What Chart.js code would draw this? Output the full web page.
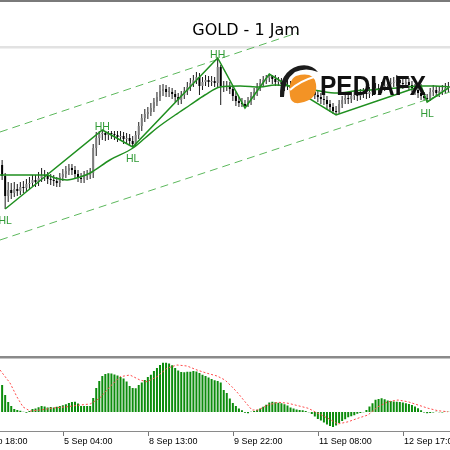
<!DOCTYPE html>
<html>
<head>
<meta charset="utf-8">
<title>GOLD - 1 Jam</title>
<script src="https://cdn.jsdelivr.net/npm/chart.js@4.4.1/dist/chart.umd.min.js"></script>
<style>
  html, body { margin: 0; padding: 0; background: #fff; }
  canvas { display: block; background: #fff; }
</style>
</head>
<body>
<canvas id="chart" width="450" height="450"></canvas>
<script>
// hourly candles, index = bar number
const opens = [3565,3554,3534,3540,3537,3541,3539,3543,3542,3546,
  3547,3550,3548,3552,3555,3554,3551,3550,3549,3547,
  3553,3556,3559,3562,3560,3556,3552,3551,3554,3555,
  3557,3582,3592,3596,3597,3595,3597,3596,3595,3593,
  3594,3591,3592,3589,3586,3595,3604,3612,3616,3618,
  3622,3628,3633,3639,3641,3638,3638,3636,3633,3630,
  3635,3639,3643,3647,3650,3653,3644,3648,3650,3648,
  3649,3647,3663,3644,3643,3644,3641,3634,3629,3627,
  3626,3624,3629,3634,3638,3643,3647,3650,3652,3654,
  3651,3648,3649,3646,3644,3645,3642,3644,3642,3643,
  3641,3642,3640,3638,3635,3633,3631,3630,3626,3623,
  3619,3618,3626,3630,3632,3631,3634,3635,3634,3636,
  3637,3636,3638,3640,3642,3641,3643,3644,3646,3647,
  3648,3650,3647,3646,3648,3645,3642,3640,3637,3634,
  3632,3631,3638,3640,3637,3639,3640,3642];
const highs = [3570,3557,3548,3547,3548,3546,3548,3549,3551,3553,
  3555,3555,3558,3562,3560,3558,3556,3555,3553,3557,
  3561,3564,3566,3566,3564,3560,3557,3559,3560,3562,
  3586,3598,3599,3600,3599,3599,3599,3599,3599,3599,
  3598,3597,3596,3594,3599,3608,3616,3621,3623,3627,
  3632,3638,3645,3646,3645,3643,3642,3640,3637,3639,
  3643,3648,3652,3655,3658,3657,3653,3655,3654,3654,
  3653,3672,3665,3649,3649,3648,3644,3638,3633,3632,
  3630,3633,3638,3642,3647,3651,3654,3655,3656,3655,
  3655,3653,3652,3650,3650,3649,3648,3648,3647,3647,
  3646,3646,3644,3642,3639,3637,3636,3634,3630,3627,
  3624,3630,3634,3637,3636,3638,3640,3639,3641,3642,
  3641,3643,3645,3647,3646,3648,3649,3651,3652,3653,
  3655,3654,3652,3653,3652,3649,3646,3644,3646,3638,
  3636,3642,3645,3644,3644,3645,3647,3648];
const lows = [3550,3521,3528,3531,3533,3534,3535,3537,3538,3541,
  3543,3543,3544,3548,3549,3546,3545,3544,3543,3543,
  3549,3552,3555,3555,3551,3548,3547,3547,3550,3551,
  3552,3574,3585,3590,3589,3590,3591,3590,3588,3589,
  3586,3587,3585,3583,3584,3591,3599,3608,3611,3614,
  3618,3624,3629,3634,3633,3633,3631,3628,3625,3626,
  3631,3635,3639,3643,3646,3635,3640,3644,3643,3644,
  3643,3643,3625,3638,3639,3636,3629,3624,3623,3623,
  3622,3623,3625,3630,3634,3639,3643,3646,3648,3646,
  3644,3644,3642,3639,3640,3638,3638,3637,3638,3636,
  3637,3635,3633,3631,3628,3626,3625,3621,3618,3616,
  3615,3616,3622,3626,3626,3627,3630,3629,3630,3632,
  3631,3632,3634,3636,3637,3637,3639,3640,3642,3643,
  3644,3643,3641,3642,3640,3638,3635,3632,3630,3629,
  3628,3629,3634,3633,3633,3635,3636,3638];
const closes = [3554,3534,3540,3537,3541,3539,3543,3542,3546,3547,
  3550,3548,3552,3555,3554,3551,3550,3549,3547,3553,
  3556,3559,3562,3560,3556,3552,3551,3554,3555,3557,
  3582,3592,3596,3597,3595,3597,3596,3595,3593,3594,
  3591,3592,3589,3586,3595,3604,3612,3616,3618,3622,
  3628,3633,3639,3641,3638,3638,3636,3633,3630,3635,
  3639,3643,3647,3650,3653,3644,3648,3650,3648,3649,
  3647,3663,3644,3643,3644,3641,3634,3629,3627,3626,
  3624,3629,3634,3638,3643,3647,3650,3652,3654,3651,
  3648,3649,3646,3644,3645,3642,3644,3642,3643,3641,
  3642,3640,3638,3635,3633,3631,3630,3626,3623,3619,
  3618,3626,3630,3632,3631,3634,3635,3634,3636,3637,
  3636,3638,3640,3642,3641,3643,3644,3646,3647,3648,
  3650,3647,3646,3648,3645,3642,3640,3637,3634,3632,
  3631,3638,3640,3637,3639,3640,3642,3643];

// moving average (read at a few bars)
const maBars = [-0.7,5.9,14.8,17.4,21.4,25.7,29,35.5,43.1,47.1,51,57,61.9,66.8,71.8,78.4,84.9,89.9,94.8,99.8,104.7,110.3,116.2,121.2,130,137.6,142.6,147.5];
const maVals = [3555,3555,3555,3552,3550,3553,3557,3570,3582,3592,3602,3615,3625,3635,3643,3644,3643,3645,3644,3642,3639,3637,3639,3640,3642,3644,3644,3643];

// zigzag swing points
const zzBars = [1,33,43,71,80,88,110,138,140,147];
const zzVals = [3521,3600,3583,3672,3622,3656,3615,3644,3628,3642];
const swingBars = [1,33,43,71,140];
const swingVals = [3521,3600,3583,3672,3628];
const swingTags = ['HL','HH','HL','HH','HL'];

// channel lines
const upperBars = [-0.7,97.1];
const upperVals = [3598,3697];
const lowerBars = [-0.7,147.5];
const lowerVals = [3490,3638];

// oscillator panel
const macdVals = [10.8,6.8,4.0,2.4,1.2,0.8,0.5,0.1,-0.3,0.4,
  1.2,1.4,1.9,2.4,2.2,1.8,2.0,1.8,2.1,2.4,
  2.7,3.1,3.6,4.0,4.1,3.4,2.4,2.4,2.4,2.4,
  5.6,9.6,12.4,14.4,15.2,15.5,15.4,15.0,14.6,14.0,
  13.4,12.2,10.4,9.6,9.5,10.8,11.8,12.8,14.0,14.9,
  16.4,17.6,18.8,19.7,19.7,19.4,18.7,17.6,16.6,16.0,
  15.9,16.1,16.1,16.4,16.2,15.6,14.9,14.4,13.8,13.2,
  12.7,12.4,11.8,8.8,7.6,5.4,3.6,2.4,1.4,0.7,
  -0.3,-0.5,0.1,0.4,0.9,1.4,2.1,2.9,3.8,4.1,
  3.9,3.7,3.5,3.1,2.6,1.8,1.4,1.0,0.8,0.7,
  0.4,-0.1,-0.8,-1.8,-2.8,-3.4,-4.2,-5.0,-5.6,-6.0,
  -5.4,-4.4,-3.6,-2.9,-2.1,-1.7,-1.3,-0.7,-0.4,-0.1,
  0.8,2.2,3.5,4.9,5.2,5.5,5.1,4.6,4.4,4.2,
  4.1,4.0,3.8,3.5,3.2,2.8,2.2,1.5,0.7,-0.2,
  -0.5,-0.4,-0.2,0.1,-0.1,-0.2,0.1,0.1];
const sigBars = [-0.7,2.6,4.9,6.9,9.2,12.5,16.8,21.4,25.7,29,32.2,35.5,38.8,42.1,45.4,47.7,51,54.3,57.6,60.9,64.2,67.5,70.8,73.4,75.7,77.7,80,82.3,84.3,87.6,90.9,94.2,97.5,100.8,104,107.3,110.6,114,117.2,120.5,123.8,127.1,130.4,133.7,137,140.3,143.6,146.9];
const sigVals = [16.8,11.6,6.0,2.0,0.4,0.8,1.6,2.1,2.8,3.2,5.6,10.1,14.1,14.8,12.8,12.1,14.1,17.5,18.8,18.4,16.8,15.5,14.4,12.8,10.1,7.5,4.1,0.8,0.8,2.8,3.9,3.5,2.5,1.5,-0.5,-2.5,-4.8,-3.9,-2.5,-1.2,2.1,4.1,4.8,4.1,2.8,1.5,0.5,0.1];

// time axis
const tickBars = [-8,20,48,76,104,132];
const tickLabels = ['3 Sep 18:00','5 Sep 04:00','8 Sep 13:00','9 Sep 22:00','11 Sep 08:00','12 Sep 17:00'];

const GREEN = '#1f8f1f';
const pts = (xs, ys) => xs.map((x, i) => ({x: x, y: ys[i]}));

const wickData = closes.map((c, i) => ({x: i, y: [lows[i], highs[i]]}));
const bodyData = closes.map((c, i) => ({x: i, y: [opens[i], c]}));
const bodyColors = closes.map((c, i) => c >= opens[i] ? '#7c7c7c' : '#000000');

const framePlugin = {
  id: 'frame',
  beforeDatasetsDraw(chart) {
    const c = chart.ctx, w = chart.width;
    c.save();
    c.fillStyle = '#7a7a7a'; c.fillRect(0, 0, w, 2);
    c.fillStyle = '#e2e2e2'; c.fillRect(0, 46, w, 2.5);
    c.fillStyle = '#8a8a8a'; c.fillRect(0, 356, w, 2.5);
    c.fillStyle = '#8a8a8a'; c.fillRect(0, 431, w, 1);
    c.restore();
  },
  afterDatasetsDraw(chart) {
    const c = chart.ctx, xs = chart.scales.x, ys = chart.scales.y;
    c.save();
    // swing labels
    c.font = '10.5px "Liberation Sans", Arial, sans-serif';
    c.fillStyle = '#2f9a35';
    c.textAlign = 'center';
    c.textBaseline = 'alphabetic';
    swingBars.forEach((b, k) => {
      const px = xs.getPixelForValue(b), py = ys.getPixelForValue(swingVals[k]);
      c.fillText(swingTags[k], px, swingTags[k] === 'HH' ? py : py + 14.5);
    });
    // watermark logo
    c.fillStyle = '#f39325';
    c.beginPath();
    c.moveTo(296, 76);
    c.quadraticCurveTo(314, 71, 316, 84);
    c.quadraticCurveTo(318, 98, 304, 102);
    c.quadraticCurveTo(291, 106, 290, 96);
    c.quadraticCurveTo(288, 80, 296, 76);
    c.fill();
    c.strokeStyle = '#fff'; c.lineWidth = 2;
    c.beginPath(); c.moveTo(290, 90); c.quadraticCurveTo(300, 81, 314, 77); c.stroke();
    c.fillStyle = '#1c1c1c';
    c.beginPath();
    c.moveTo(280, 97);
    c.quadraticCurveTo(279, 72, 298, 66);
    c.quadraticCurveTo(311, 63, 318, 72);
    c.quadraticCurveTo(306, 67, 295, 72);
    c.quadraticCurveTo(284, 80, 284, 97);
    c.closePath();
    c.fill();
    c.fillStyle = '#111';
    c.font = 'bold 27px "Liberation Sans", Arial, sans-serif';
    c.textAlign = 'left';
    c.fillText('PEDIAFX', 320, 95, 106);
    c.restore();
  },
  afterDraw(chart) {
    const c = chart.ctx, xs = chart.scales.x;
    c.save();
    c.fillStyle = '#000';
    c.font = '16px "Comic Sans MS", "DejaVu Sans", sans-serif';
    c.textAlign = 'center';
    c.textBaseline = 'alphabetic';
    c.fillText('GOLD - 1 Jam', 246, 35);
    c.font = '9px "Liberation Sans", Arial, sans-serif';
    c.textAlign = 'left';
    c.strokeStyle = '#777';
    c.lineWidth = 1;
    tickBars.forEach((b, k) => {
      const px = Math.round(xs.getPixelForValue(b)) + 0.5;
      c.beginPath(); c.moveTo(px, 432); c.lineTo(px, 436); c.stroke();
      c.fillText(tickLabels[k], px + 0.5, 443.5);
    });
    c.restore();
  }
};

const chart = new Chart(document.getElementById('chart'), {
  type: 'bar',
  data: {
    datasets: [
      {type: 'line', data: pts(zzBars, zzVals), borderColor: GREEN, borderWidth: 1.5, pointRadius: 0, tension: 0, yAxisID: 'y', order: 1},
      {type: 'line', data: pts(maBars, maVals), borderColor: GREEN, borderWidth: 1.5, pointRadius: 0, cubicInterpolationMode: 'monotone', yAxisID: 'y', order: 1},
      {type: 'line', data: pts(upperBars, upperVals), borderColor: '#5cb85c', borderWidth: 1, borderDash: [8, 5], pointRadius: 0, yAxisID: 'y', order: 1},
      {type: 'line', data: pts(lowerBars, lowerVals), borderColor: '#5cb85c', borderWidth: 1, borderDash: [8, 5], pointRadius: 0, yAxisID: 'y', order: 1},
      {type: 'line', data: pts(sigBars, sigVals), borderColor: '#ff4a4a', borderWidth: 1, borderDash: [2, 2], pointRadius: 0, yAxisID: 'ym', order: 1},
      {data: bodyData, backgroundColor: bodyColors, barThickness: 2, minBarLength: 1, grouped: false, inflateAmount: 0, yAxisID: 'y', order: 2},
      {data: wickData, backgroundColor: '#1a1a1a', barThickness: 1, grouped: false, inflateAmount: 0, yAxisID: 'y', order: 3},
      {data: macdVals.map((v, i) => ({x: i, y: v})), backgroundColor: '#0c8c0c', barThickness: 2, grouped: false, inflateAmount: 0, yAxisID: 'ym', order: 2}
    ]
  },
  options: {
    responsive: false,
    animation: false,
    layout: {padding: 0},
    plugins: {legend: {display: false}, tooltip: {enabled: false}},
    scales: {
      x: {type: 'linear', min: -0.7, max: 147.53, offset: false, display: false},
      y: {min: 3280, max: 3730, display: false},
      ym: {min: -15.2, max: 164.8, display: false}
    }
  },
  plugins: [framePlugin]
});
</script>
</body>
</html>
